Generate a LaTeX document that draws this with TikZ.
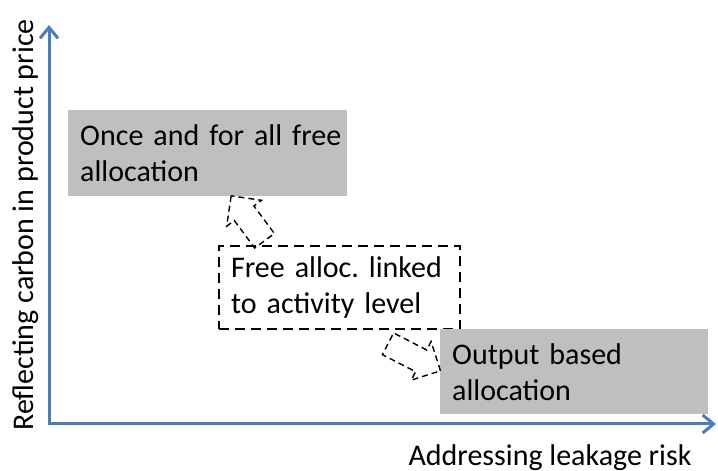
\documentclass[tikz,border=0pt]{standalone}
\usepackage{fontspec}
\setmainfont{Carlito}
\usetikzlibrary{arrows.meta,shapes.arrows}
\definecolor{axisblue}{RGB}{74,126,187}
\definecolor{boxgray}{RGB}{191,191,191}
\frenchspacing

\begin{document}
\begin{tikzpicture}[x=1pt,y=1pt,
  lbl/.style={font=\fontsize{30}{36}\selectfont},
  panel/.style={lbl, inner xsep=12pt, inner ysep=0pt, align=left, anchor=north west},
  graybox/.style={panel, fill=boxgray},
  dashbox/.style={panel, draw=black, line width=2.2pt, dash pattern=on 10pt off 6pt},
  move/.style={single arrow, draw=black, line width=1.4pt, dash pattern=on 6pt off 4pt,
    inner xsep=0pt, inner ysep=11.5pt, text height=0pt, text depth=0pt,
    single arrow head extend=9.5pt},
  axis/.style={draw=axisblue, line width=3pt, >={Straight Barb[length=11pt,width=18pt]}}]
\useasboundingbox (0,0) rectangle (718,471);

% axes
\coordinate (ytop) at (49,446);
\coordinate (o) at (49,47);
\coordinate (xend) at (716,47);
\draw[axis, <->] (ytop) -- (o) -- (xend);

% axis labels
\node[lbl, rotate=90, anchor=base] (ylabel) at (34,246) {Reflecting carbon in product price};
\node[lbl, anchor=base] (xlabel) at (550,5) {Addressing leakage risk};

% allocation options
\node[graybox, text width=255pt, minimum height=86pt] (once) at (68,361)
  {\mbox{Once and for all free}\\allocation};
\node[dashbox, text width=217pt, minimum height=83pt] (linked) at (218,226)
  {\mbox{Free alloc. linked}\\\mbox{to activity level}};
\node[graybox, text width=244pt, minimum height=85pt] (output) at (440,142)
  {Output based\\allocation};

% moves away from the linked option, towards either neighbour
\node[move, minimum height=56pt, rotate=126.6] (toonce) at (251.5,247.8) {};
\node[move, minimum height=59pt, rotate=-27.2] (tooutput) at (408.8,116.5) {};
\end{tikzpicture}
\end{document}
